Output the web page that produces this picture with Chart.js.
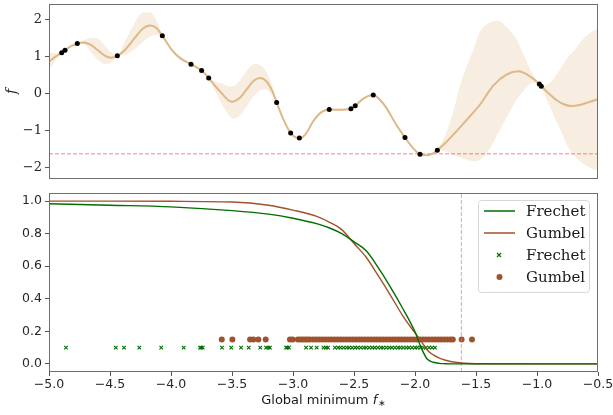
<!DOCTYPE html>
<html>
<head>
<meta charset="utf-8">
<script src="https://cdn.jsdelivr.net/npm/chart.js@4.4.1/dist/chart.umd.min.js"></script>
<style>
  html, body { margin: 0; padding: 0; background: #fff; }
  #top { position: absolute; left: 0; top: 0; width: 613px; height: 186px; }
  #bot { position: absolute; left: 0; top: 185px; width: 613px; height: 230px; }
</style>
</head>
<body>
<div id="top"><canvas id="c1"></canvas></div>
<div id="bot"><canvas id="c2"></canvas></div>
<script>
// ---- top panel: GP posterior ----
var meanX = [-5.00, -4.95, -4.896, -4.869, -4.82, -4.768, -4.72, -4.66, -4.60, -4.54, -4.49, -4.44, -4.38, -4.30, -4.23, -4.17, -4.12, -4.071, -4.00, -3.93,
  -3.836, -3.749, -3.691, -3.64, -3.58, -3.53, -3.497, -3.44, -3.38, -3.32, -3.27, -3.22, -3.17, -3.134, -3.08, -3.019, -2.948, -2.90, -2.834, -2.77,
  -2.703, -2.615, -2.525, -2.49, -2.42, -2.342, -2.29, -2.232, -2.16, -2.082, -2.02, -1.959, -1.91, -1.86, -1.817, -1.75, -1.68, -1.576, -1.47, -1.357,
  -1.25, -1.153, -1.07, -0.981, -0.965, -0.90, -0.839, -0.78, -0.716, -0.65, -0.58, -0.50];
var meanY = [0.87, 1.00, 1.11, 1.18, 1.29, 1.36, 1.39, 1.33, 1.18, 1.03, 0.98, 1.03, 1.18, 1.50, 1.77, 1.85, 1.78, 1.57, 1.22, 0.98,
  0.80, 0.63, 0.43, 0.22, 0.00, -0.17, -0.21, -0.12, 0.12, 0.36, 0.43, 0.35, 0.08, -0.23, -0.68, -1.06, -1.20, -1.10, -0.74, -0.50,
  -0.42, -0.43, -0.40, -0.32, -0.12, -0.03, -0.15, -0.39, -0.80, -1.18, -1.45, -1.63, -1.66, -1.62, -1.52, -1.32, -1.08, -0.70, -0.30, 0.23,
  0.52, 0.61, 0.50, 0.27, 0.21, 0.00, -0.17, -0.28, -0.33, -0.30, -0.23, -0.14];

var bandX = [-5.00, -4.95, -4.896, -4.869, -4.82, -4.768, -4.72, -4.66, -4.60, -4.54, -4.49, -4.44, -4.38, -4.30, -4.23, -4.17, -4.12, -4.071, -4.00, -3.93,
  -3.836, -3.749, -3.691, -3.64, -3.58, -3.53, -3.497, -3.44, -3.38, -3.32, -3.27, -3.22, -3.17, -3.134, -3.08, -3.019, -2.948, -2.90, -2.834, -2.77,
  -2.703, -2.615, -2.525, -2.49, -2.42, -2.342, -2.29, -2.232, -2.16, -2.082, -2.02, -1.959, -1.91, -1.86, -1.817, -1.75, -1.68, -1.63, -1.576, -1.52,
  -1.47, -1.40, -1.318, -1.25, -1.167, -1.10, -1.03, -0.981, -0.965, -0.92, -0.865, -0.81, -0.757, -0.70, -0.648, -0.60, -0.55, -0.50];
var bandLo = [0.64, 0.90, 1.10, 1.17, 1.27, 1.35, 1.35, 1.15, 0.92, 0.80, 0.84, 1.02, 1.05, 1.20, 1.40, 1.55, 1.60, 1.56, 1.19, 0.95,
  0.79, 0.62, 0.42, 0.10, -0.30, -0.55, -0.67, -0.60, -0.35, -0.05, 0.10, 0.12, -0.05, -0.24, -0.70, -1.07, -1.21, -1.13, -0.78, -0.53,
  -0.43, -0.46, -0.41, -0.33, -0.14, -0.04, -0.17, -0.42, -0.83, -1.19, -1.47, -1.64, -1.68, -1.64, -1.53, -1.55, -1.66, -1.72, -1.78, -1.82,
  -1.78, -1.55, -1.05, -0.65, -0.15, 0.12, 0.30, 0.25, 0.19, -0.15, -0.57, -0.95, -1.36, -1.65, -1.82, -1.93, -2.02, -2.07];
var bandHi = [1.11, 1.10, 1.12, 1.19, 1.31, 1.37, 1.44, 1.51, 1.50, 1.30, 1.12, 1.04, 1.40, 1.90, 2.20, 2.20, 1.98, 1.58, 1.25, 1.01,
  0.81, 0.64, 0.44, 0.34, 0.28, 0.20, 0.20, 0.35, 0.62, 0.80, 0.78, 0.60, 0.22, -0.22, -0.66, -1.05, -1.19, -1.07, -0.70, -0.47,
  -0.41, -0.40, -0.39, -0.31, -0.10, -0.02, -0.13, -0.36, -0.77, -1.17, -1.43, -1.62, -1.63, -1.60, -1.51, -1.10, -0.40, 0.23, 0.75, 1.20,
  1.65, 1.90, 1.98, 1.80, 1.47, 1.00, 0.50, 0.29, 0.23, 0.25, 0.40, 0.67, 0.95, 1.15, 1.38, 1.55, 1.68, 1.78];

var obsX = [-4.896, -4.869, -4.768, -4.44, -4.071, -3.836, -3.749, -3.691, -3.134, -3.019, -2.948, -2.703, -2.525, -2.49, -2.342, -2.082, -1.959, -1.817, -0.981, -0.965];
var obsY = [1.11, 1.18, 1.36, 1.03, 1.57, 0.80, 0.63, 0.43, -0.23, -1.06, -1.19, -0.42, -0.40, -0.32, -0.03, -1.18, -1.63, -1.52, 0.27, 0.21];

var fStar = -1.62;
var topYTicks = [-2, -1, 0, 1, 2];
var topYLabel = 'f';

// ---- bottom panel: distributions of the global minimum ----
var cdfX = [-5.0, -4.5, -4.0, -3.5, -3.2, -3.0, -2.8, -2.7, -2.6, -2.5, -2.4, -2.3, -2.2, -2.1, -2.0, -1.95, -1.9, -1.85, -1.8, -1.75, -1.7, -1.6, -1.5, -0.5];
var frechetCdf = [0.984, 0.975, 0.965, 0.942, 0.92, 0.895, 0.86, 0.835, 0.80, 0.75, 0.695, 0.59, 0.47, 0.34, 0.197, 0.10, 0.03, 0.01, 0.003, 0.001, 0.0, 0.0, 0.0, 0.0];
var gumbelCdf = [1.0, 1.0, 0.999, 0.995, 0.975, 0.945, 0.905, 0.87, 0.825, 0.74, 0.655, 0.54, 0.42, 0.295, 0.19, 0.14, 0.085, 0.055, 0.035, 0.022, 0.013, 0.004, 0.001, 0.0];

var frechetSamples = [-4.861, -4.453, -4.385, -4.26, -4.08, -3.896, -3.762, -3.752, -3.74, -3.582, -3.506, -3.426, -3.363, -3.268, -3.221, -3.202, -3.189,
  -3.057, -3.047, -3.033, -2.893, -2.852, -2.806, -2.75, -2.73, -2.713,
  -2.656, -2.63, -2.61, -2.585, -2.56, -2.54, -2.515, -2.49, -2.47, -2.445, -2.42, -2.40, -2.375, -2.35, -2.33, -2.305, -2.28, -2.26,
  -2.235, -2.21, -2.19, -2.165, -2.14, -2.12, -2.095, -2.07, -2.05, -2.025, -2.0, -1.98, -1.955, -1.93, -1.91, -1.885, -1.86, -1.836];
var gumbelSamples = [-3.584, -3.497, -3.352, -3.325, -3.284, -3.224, -3.025, -3.003, -2.96, -2.94, -2.92, -2.90, -2.88, -2.86,
  -2.834, -2.81, -2.785, -2.76, -2.735, -2.71, -2.685, -2.66, -2.635, -2.61, -2.585, -2.56, -2.535, -2.51, -2.485, -2.46, -2.435, -2.41,
  -2.385, -2.36, -2.335, -2.31, -2.285, -2.26, -2.235, -2.21, -2.185, -2.16, -2.135, -2.11, -2.085, -2.06, -2.035, -2.01, -1.985, -1.96,
  -1.935, -1.91, -1.885, -1.86, -1.835, -1.81, -1.785, -1.76, -1.735, -1.71, -1.69, -1.618, -1.533];
var frechetLevel = 0.1;
var gumbelLevel = 0.15;

var seriesNames = ['Frechet', 'Gumbel'];
var xTicks = [-5.0, -4.5, -4.0, -3.5, -3.0, -2.5, -2.0, -1.5, -1.0, -0.5];
var botYTicks = [0.0, 0.2, 0.4, 0.6, 0.8, 1.0];
var xLabel = 'Global minimum ';

var green = '#006e00';
var brown = '#a0522d';
var tan = '#deb887';
var coral = 'rgba(240,110,110,0.85)';

function pts(xs, ys) {
  return xs.map(function (x, i) { return { x: x, y: ys[i] }; });
}
function minus(s) { return String(s).replace('-', '\u2212'); }
function noPad(s) { s.paddingTop = 0; s.paddingBottom = 0; s.paddingLeft = 0; s.paddingRight = 0; }

var frame = {
  id: 'frame',
  afterDraw: function (chart) {
    var a = chart.chartArea, ctx = chart.ctx;
    ctx.save();
    ctx.strokeStyle = '#6f6f6f';
    ctx.lineWidth = 1;
    ctx.strokeRect(Math.round(a.left) + 0.5, Math.round(a.top) + 0.5, Math.round(a.right - a.left) - 1, Math.round(a.bottom - a.top) - 1);
    ctx.restore();
  }
};

Chart.defaults.animation = false;
Chart.defaults.events = [];

new Chart(document.getElementById('c1'), {
  type: 'scatter',
  data: {
    datasets: [
      { data: pts(obsX, obsY), pointRadius: 2.5, pointBackgroundColor: '#000', pointBorderWidth: 0 },
      { data: pts(meanX, meanY), showLine: true, pointRadius: 0, borderColor: tan, borderWidth: 2, cubicInterpolationMode: 'monotone' },
      { data: [{ x: -5, y: fStar }, { x: -0.5, y: fStar }], showLine: true, pointRadius: 0, borderColor: coral, borderWidth: 1, borderDash: [4, 2] },
      { data: pts(bandX, bandHi), showLine: true, pointRadius: 0, borderWidth: 0, cubicInterpolationMode: 'monotone',
        fill: '+1', backgroundColor: 'rgba(222,184,135,0.25)' },
      { data: pts(bandX, bandLo), showLine: true, pointRadius: 0, borderWidth: 0, cubicInterpolationMode: 'monotone' }
    ]
  },
  options: {
    responsive: true,
    maintainAspectRatio: false,
    layout: { padding: { top: 0, right: 15, bottom: 7, left: 0 } },
    plugins: { legend: { display: false }, tooltip: { enabled: false } },
    scales: {
      x: { type: 'linear', min: -5, max: -0.5, display: false },
      y: {
        min: -2.30, max: 2.43,
        afterFit: function (s) { s.width = 49; noPad(s); },
        afterBuildTicks: function (s) { s.ticks = topYTicks.map(function (v) { return { value: v }; }); },
        ticks: { color: '#262626', padding: 3, font: { family: 'DejaVu Serif', size: 13 }, callback: function (v) { return minus(v); } },
        grid: { display: true, drawOnChartArea: false, drawTicks: true, tickLength: 4, color: '#555' },
        border: { display: false },
        title: { display: true, text: topYLabel, color: '#262626', padding: { top: 4, bottom: 0 },
          font: { family: 'DejaVu Serif', style: 'italic', size: 14 } }
      }
    }
  },
  plugins: [frame]
});

var legendItems = [
  { label: seriesNames[0], color: green, kind: 'line' },
  { label: seriesNames[1], color: brown, kind: 'line' },
  { label: seriesNames[0], color: green, kind: 'cross' },
  { label: seriesNames[1], color: brown, kind: 'dot' }
];

var legendBox = {
  id: 'legendBox',
  afterDraw: function (chart) {
    var ctx = chart.ctx;
    var x0 = 478.5, y0 = 15.5, w = 111, h = 92, r = 3;
    ctx.save();
    ctx.beginPath();
    ctx.moveTo(x0 + r, y0);
    ctx.arcTo(x0 + w, y0, x0 + w, y0 + h, r);
    ctx.arcTo(x0 + w, y0 + h, x0, y0 + h, r);
    ctx.arcTo(x0, y0 + h, x0, y0, r);
    ctx.arcTo(x0, y0, x0 + w, y0, r);
    ctx.closePath();
    ctx.fillStyle = 'rgba(255,255,255,0.8)';
    ctx.fill();
    ctx.strokeStyle = '#d6d6d6';
    ctx.lineWidth = 1;
    ctx.stroke();
    ctx.font = '15px "DejaVu Serif"';
    ctx.textBaseline = 'middle';
    legendItems.forEach(function (it, i) {
      var y = 26 + i * 22;
      ctx.strokeStyle = it.color;
      ctx.fillStyle = it.color;
      if (it.kind === 'line') {
        ctx.lineWidth = 1.5;
        ctx.beginPath(); ctx.moveTo(484, y); ctx.lineTo(515, y); ctx.stroke();
      } else if (it.kind === 'cross') {
        ctx.lineWidth = 1.2;
        ctx.beginPath();
        ctx.moveTo(497, y - 2); ctx.lineTo(501, y + 2);
        ctx.moveTo(501, y - 2); ctx.lineTo(497, y + 2);
        ctx.stroke();
      } else {
        ctx.beginPath(); ctx.arc(499.5, y, 3, 0, Math.PI * 2); ctx.fill();
      }
      ctx.fillStyle = '#1a1a1a';
      ctx.fillText(it.label, 526, y + 1);
    });
    ctx.restore();
  }
};

var xTitle = {
  id: 'xTitle',
  afterDraw: function (chart) {
    var ctx = chart.ctx, a = chart.chartArea;
    var f1 = '13px "DejaVu Sans"', f2 = 'italic 13px "DejaVu Sans"', f3 = '9px "DejaVu Sans"';
    ctx.save();
    ctx.font = f1; var w1 = ctx.measureText(xLabel).width;
    ctx.font = f2; var w2 = ctx.measureText('f').width;
    ctx.font = f3; var w3 = ctx.measureText('\u2217').width;
    var x = (a.left + a.right) / 2 - (w1 + w2 + w3 + 1) / 2, y = 216;
    ctx.fillStyle = '#1a1a1a';
    ctx.textBaseline = 'middle';
    ctx.font = f1; ctx.fillText(xLabel, x, y);
    ctx.font = f2; ctx.fillText('f', x + w1, y);
    ctx.font = f3; ctx.fillText('\u2217', x + w1 + w2 + 1, y + 3);
    ctx.restore();
  }
};

new Chart(document.getElementById('c2'), {
  type: 'scatter',
  data: {
    datasets: [
      { data: pts(cdfX, frechetCdf), showLine: true, pointRadius: 0, borderColor: green, borderWidth: 1.4, cubicInterpolationMode: 'monotone' },
      { data: pts(cdfX, gumbelCdf), showLine: true, pointRadius: 0, borderColor: brown, borderWidth: 1.4, cubicInterpolationMode: 'monotone' },
      { data: [{ x: fStar, y: -0.05 }, { x: fStar, y: 1.05 }], showLine: true, pointRadius: 0, borderColor: coral, borderWidth: 0.8, borderDash: [4, 2] },
      { data: frechetSamples.map(function (x) { return { x: x, y: frechetLevel }; }), pointStyle: 'crossRot', pointRadius: 2.5,
        pointBorderColor: green, pointBorderWidth: 1.1 },
      { data: gumbelSamples.map(function (x) { return { x: x, y: gumbelLevel }; }), pointStyle: 'circle', pointRadius: 3,
        pointBackgroundColor: brown, pointBorderWidth: 0 }
    ]
  },
  options: {
    responsive: true,
    maintainAspectRatio: false,
    layout: { padding: { top: 8, right: 15, bottom: 0, left: 0 } },
    plugins: { legend: { display: false }, tooltip: { enabled: false } },
    scales: {
      x: {
        type: 'linear', min: -5, max: -0.5,
        afterFit: function (s) { s.height = 43; noPad(s); },
        afterBuildTicks: function (s) { s.ticks = xTicks.map(function (v) { return { value: v }; }); },
        ticks: { color: '#262626', padding: 1, maxRotation: 0, font: { family: 'DejaVu Sans', size: 12.5 },
          callback: function (v) { return minus(v.toFixed(1)); } },
        grid: { display: true, drawOnChartArea: false, drawTicks: true, tickLength: 4, color: '#555' },
        border: { display: false }
      },
      y: {
        min: -0.05, max: 1.05,
        afterFit: function (s) { s.width = 49; noPad(s); },
        afterBuildTicks: function (s) { s.ticks = botYTicks.map(function (v) { return { value: v }; }); },
        ticks: { color: '#262626', padding: 3, font: { family: 'DejaVu Sans', size: 12.5 },
          callback: function (v) { return minus(v.toFixed(1)); } },
        grid: { display: true, drawOnChartArea: false, drawTicks: true, tickLength: 4, color: '#555' },
        border: { display: false }
      }
    }
  },
  plugins: [frame, legendBox, xTitle]
});
</script>
</body>
</html>
